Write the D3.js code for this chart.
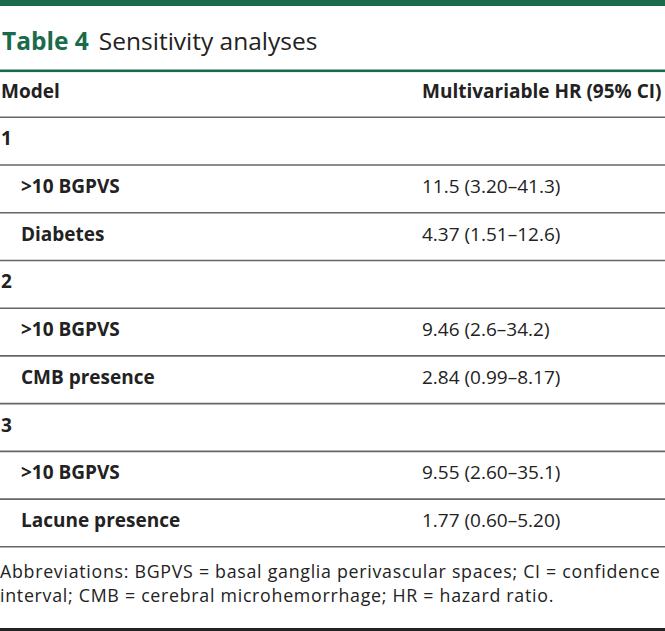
<!DOCTYPE html>
<html>
<head>
<meta charset="utf-8">
<script src="https://cdn.jsdelivr.net/npm/d3@7"></script>
<style>
  html, body { margin: 0; padding: 0; background: #fff; }
  svg { display: block; font-family: "Open Sans", "Noto Sans", sans-serif; }
</style>
</head>
<body>
<svg id="chart" width="665" height="631"></svg>
<script>
const tableNumber = "Table 4";
const tableTitle = "Sensitivity analyses";
const headers = ["Model", "Multivariable HR (95% CI)"];
const rowLabels = ["1", ">10 BGPVS", "Diabetes", "2", ">10 BGPVS", "CMB presence", "3", ">10 BGPVS", "Lacune presence"];
const rowIndent = [false, true, true, false, true, true, false, true, true];
const hrValues = ["", "11.5 (3.20–41.3)", "4.37 (1.51–12.6)", "", "9.46 (2.6–34.2)", "2.84 (0.99–8.17)", "", "9.55 (2.60–35.1)", "1.77 (0.60–5.20)"];
const footnoteLines = [
  "Abbreviations: BGPVS = basal ganglia perivascular spaces; CI = confidence",
  "interval; CMB = cerebral microhemorrhage; HR = hazard ratio."
];

const W = 665, H = 631;
const green = "#1a6b4b", text = "#222", rule = "#666";
const fs = 19;
const svg = d3.select("#chart");

// top bar
svg.append("rect").attr("x", 0).attr("y", 0).attr("width", W).attr("height", 6).attr("fill", green);

// title
const title = svg.append("text").attr("x", 2).attr("y", 49.5).attr("font-size", 24.5);
title.append("tspan").attr("font-weight", 700).attr("fill", green).text(tableNumber);
title.append("tspan").attr("fill", text).attr("dx", 10).text(tableTitle);

// green rule under title
svg.append("rect").attr("x", 0).attr("y", 69.5).attr("width", W).attr("height", 2.6).attr("fill", green);

// header
const col2 = 422;
svg.append("text").attr("x", 1).attr("y", 98).attr("font-size", fs).attr("font-weight", 700).attr("fill", text).text(headers[0]);
svg.append("text").attr("x", col2).attr("y", 98).attr("font-size", fs).attr("font-weight", 700).attr("fill", text).text(headers[1]);

// rows
const y = d3.scaleLinear().domain([0, rowLabels.length]).range([117.3, 546.8]);
const lines = d3.range(rowLabels.length + 1);
svg.selectAll("line.rule").data(lines).join("line")
  .attr("class", "rule")
  .attr("x1", 0).attr("x2", W)
  .attr("y1", d => y(d)).attr("y2", d => y(d))
  .attr("stroke", rule).attr("stroke-width", 1.6);

const rows = svg.selectAll("g.row").data(rowLabels).join("g").attr("class", "row");
rows.append("text")
  .attr("x", (d, i) => rowIndent[i] ? 21 : 1)
  .attr("y", (d, i) => y(i) + 28)
  .attr("font-size", fs).attr("font-weight", 700).attr("fill", text)
  .text(d => d);
rows.append("text")
  .attr("x", col2)
  .attr("y", (d, i) => y(i) + 28)
  .attr("font-size", fs).attr("fill", text)
  .text((d, i) => hrValues[i]);

// footnote
svg.selectAll("text.foot").data(footnoteLines).join("text")
  .attr("class", "foot")
  .attr("x", 0).attr("y", (d, i) => 577.5 + i * 24.5)
  .attr("font-size", 17.8).attr("letter-spacing", 0.72).attr("fill", text)
  .text(d => d);

// bottom rule
svg.append("rect").attr("x", 0).attr("y", 628).attr("width", W).attr("height", 3).attr("fill", "#222");
</script>
</body>
</html>
